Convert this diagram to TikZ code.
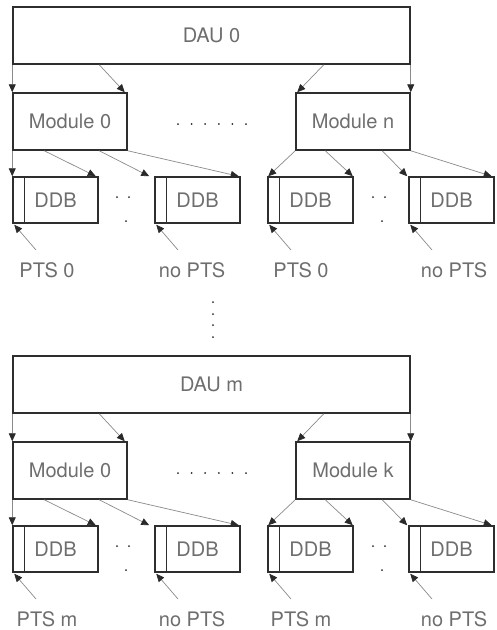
\documentclass[tikz,border=0pt]{standalone}
\usepackage{fontspec}
\setmainfont{TeX Gyre Heros}
\usetikzlibrary{arrows.meta}
\definecolor{boxcol}{HTML}{2E2E2E}
\definecolor{linkcol}{HTML}{8A8A8A}
\definecolor{tipcol}{HTML}{2A2A2A}
\definecolor{txtcol}{HTML}{6E6E6E}

\begin{document}
\begin{tikzpicture}[x=1pt, y=-1pt,
		box/.style={draw=boxcol, line width=1.5pt, inner sep=0pt, text=txtcol, font=\fontsize{20}{24}\selectfont},
		boxline/.style={draw=boxcol, line width=1.5pt},
		link/.style={draw=linkcol, line width=0.7pt, -{Triangle[length=8pt, width=7pt, color=tipcol]}},
		tag/.style={text=txtcol, inner sep=0pt, anchor=base, font=\fontsize{20}{24}\selectfont},
		dot/.style={fill=tipcol}]
		\useasboundingbox (0, 0) rectangle (496, 630);
		% two identical halves
		\foreach \h/\oy/\da/\mb/\pt in {1/0/0/n/0, 2/349/m/k/m} {
		\begin{scope}[shift={(0, \oy)}]
			\node [box, minimum width=397pt, minimum height=57pt] (dau\h) at (211.5, 35.5) {DAU \da};
			\node [box, minimum width=114pt, minimum height=57pt] (mod\h-a) at (70, 121.5) {Module 0};
			\node [box, minimum width=114pt, minimum height=57pt] (mod\h-b) at (353, 121.5) {Module \mb};
			\foreach \dx in {0, ..., 5}
				\fill [dot] (178 + \dx * 13.6, 124) circle (1pt);
			% data blocks
			\foreach \j/\xl/\lx/\lab in {1/13/47/PTS \pt, 2/155/192/no PTS, 3/268/301/PTS \pt, 4/409/454/no PTS} {
				\node [box, minimum width=85pt, minimum height=46pt] (ddb\h-\j) at (\xl + 42.5, 200) {DDB};
				\draw [boxline] ([xshift=12pt]ddb\h-\j.north west) -- ([xshift=12pt]ddb\h-\j.south west);
				\node [tag] (lab\h-\j) at (\lx, 277) {\lab};
				\coordinate (pts\h-\j) at (\xl + 23, 250);
				\draw [link] (pts\h-\j) -- ([shift={(2pt, -1pt)}]ddb\h-\j.south west);
			}
			\foreach \xo in {98, 354} {
				\fill [dot] (\xo + 19, 197) circle (1pt);
				\fill [dot] (\xo + 31, 197) circle (1pt);
				\fill [dot] (\xo + 28, 221) circle (1pt);
			}
			% DAU to modules
			\draw [link] (dau\h.south west) -- (mod\h-a.north west);
			\draw [link] ([xshift=87pt]dau\h.south west) -- ([xshift=-3pt]mod\h-a.north east);
			\draw [link] ([xshift=-87pt]dau\h.south east) -- ([xshift=2pt]mod\h-b.north west);
			\draw [link] (dau\h.south east) -- (mod\h-b.north east);
			% modules to data blocks
			\draw [link] (mod\h-a.south west) -- (ddb\h-1.north west);
			\draw [link] ([xshift=32pt]mod\h-a.south west) -- ([xshift=-3pt]ddb\h-1.north east);
			\draw [link] ([xshift=87pt]mod\h-a.south west) -- ([xshift=-5pt]ddb\h-2.north west);
			\draw [link] (mod\h-a.south east) -- ([xshift=-2pt]ddb\h-2.north east);
			\draw [link] (mod\h-b.south west) -- ([xshift=1pt]ddb\h-3.north west);
			\draw [link] ([xshift=30pt]mod\h-b.south west) -- ([xshift=-1pt]ddb\h-3.north east);
			\draw [link] ([xshift=87pt]mod\h-b.south west) -- ([xshift=-1pt]ddb\h-4.north west);
			\draw [link] (mod\h-b.south east) -- ([xshift=-3pt]ddb\h-4.north east);
		\end{scope}
		}
		\foreach \vy in {302, 314, 325, 337}
			\fill [dot] (213, \vy) circle (1pt);
	\end{tikzpicture}
\end{document}
